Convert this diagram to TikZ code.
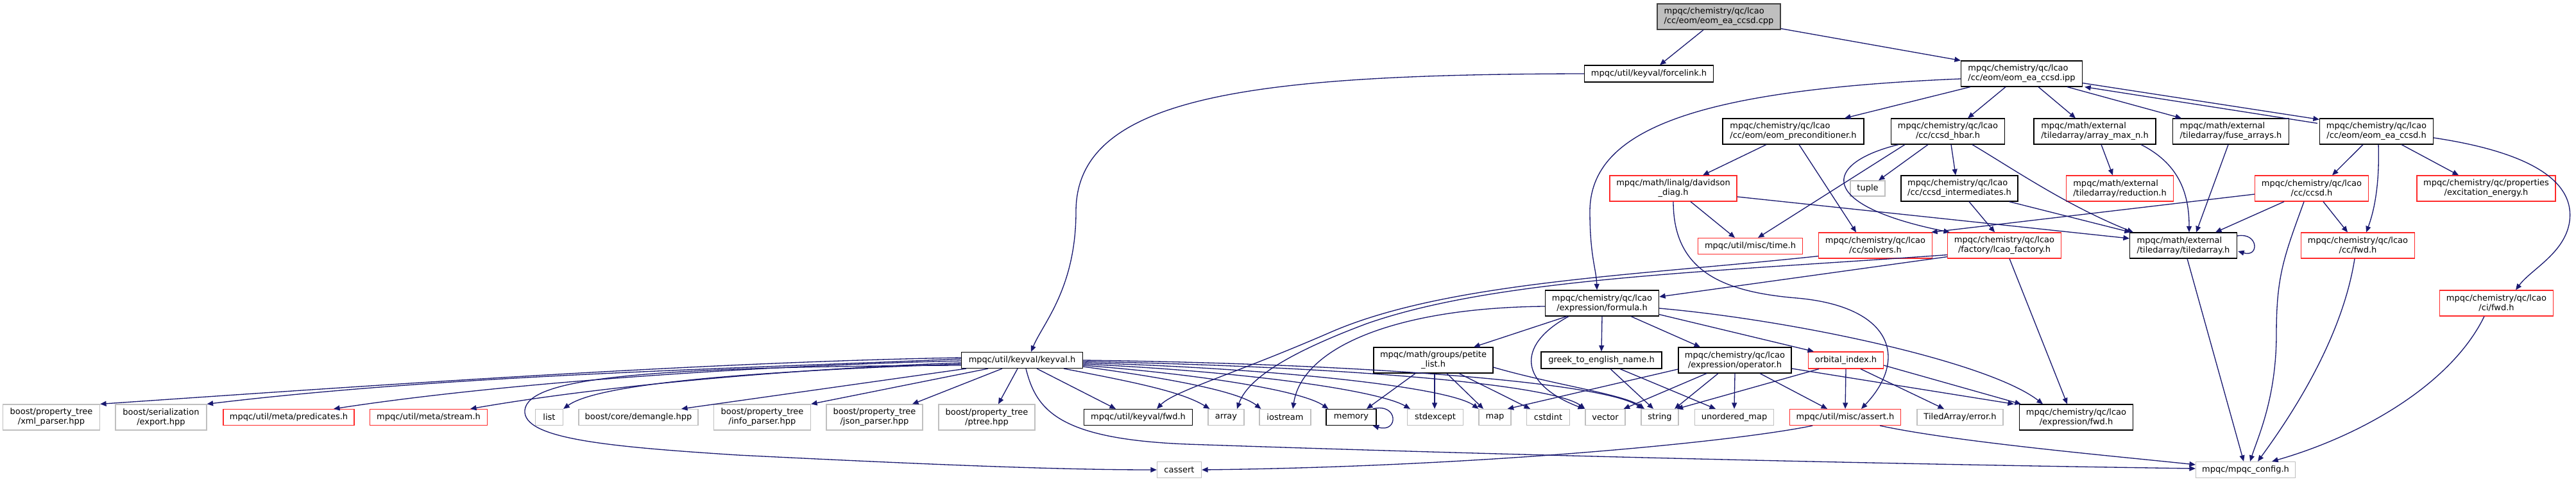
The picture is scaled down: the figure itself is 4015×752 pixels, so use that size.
\documentclass[tikz,border=0pt]{standalone}
\usepackage{fontspec}
\setmainfont{DejaVu Sans}
\usetikzlibrary{arrows.meta,calc}
\definecolor{edgecol}{HTML}{191970}
\definecolor{greyb}{HTML}{BFBFBF}
\definecolor{redb}{HTML}{FF2A2A}
\definecolor{rootfill}{HTML}{BFBFBF}
\definecolor{rootdraw}{HTML}{404040}
\begin{document}
\begin{tikzpicture}[x=0.2mm,y=-0.2mm,
  every node/.style={font=\fontsize{7.4}{8.5}\selectfont, inner sep=1pt, rectangle, line width=0.7pt, align=center, fill=white},
  sz/.style 2 args={minimum width=#1*0.2mm, minimum height=#2*0.2mm},
  nb/.style={draw=black},
  nr/.style={draw=redb},
  ng/.style={draw=greyb},
  root/.style={draw=rootdraw, fill=rootfill},
  dep/.style={draw=edgecol, line width=0.75pt, -{Triangle[length=1.9mm,width=1.6mm]}}]
\useasboundingbox (0,0) rectangle (4015,752);
\fill[white] (0,0) rectangle (4015,752);

% ---- nodes ----
\node[root,sz={192}{40},align=left] (cpp) at (2679,26) {mpqc/chemistry/qc/lcao\\/cc/eom/eom\_ea\_ccsd.cpp};
\node[nb,sz={201}{26}] (forcelink) at (2570,115) {mpqc/util/keyval/forcelink.h};
\node[nb,sz={189}{40},align=left] (ipp) at (3151,115) {mpqc/chemistry/qc/lcao\\/cc/eom/eom\_ea\_ccsd.ipp};
\node[nb,sz={220}{40},align=left] (precond) at (2795,205) {mpqc/chemistry/qc/lcao\\/cc/eom/eom\_preconditioner.h};
\node[nb,sz={177}{40}] (hbar) at (3036,205) {mpqc/chemistry/qc/lcao\\/cc/ccsd\_hbar.h};
\node[nb,sz={190}{40},align=left] (amax) at (3265,205) {mpqc/math/external\\/tiledarray/array\_max\_n.h};
\node[nb,sz={181}{40},align=left] (fuse) at (3477,205) {mpqc/math/external\\/tiledarray/fuse\_arrays.h};
\node[nb,sz={177}{40}] (eomh) at (3704,205) {mpqc/chemistry/qc/lcao\\/cc/eom/eom\_ea\_ccsd.h};
\node[nr,sz={198}{40}] (davidson) at (2608,294) {mpqc/math/linalg/davidson\\\_diag.h};
\node[ng,sz={54}{24}] (tuple) at (2911,294) {tuple};
\node[nb,sz={182}{40},align=left] (inter) at (3054,294) {mpqc/chemistry/qc/lcao\\/cc/ccsd\_intermediates.h};
\node[nr,sz={167}{40},align=left] (reduction) at (3304,294) {mpqc/math/external\\/tiledarray/reduction.h};
\node[nr,sz={177}{40}] (ccsdh) at (3603,294) {mpqc/chemistry/qc/lcao\\/cc/ccsd.h};
\node[nr,sz={216}{40}] (excit) at (3875,294) {mpqc/chemistry/qc/properties\\/excitation\_energy.h};
\node[nr,sz={163}{25}] (time) at (2728,384) {mpqc/util/misc/time.h};
\node[nr,sz={177}{40}] (solvers) at (2923,383) {mpqc/chemistry/qc/lcao\\/cc/solvers.h};
\node[nr,sz={177}{40}] (factory) at (3124,383) {mpqc/chemistry/qc/lcao\\/factory/lcao\_factory.h};
\node[nb,sz={167}{40},align=left] (tarr) at (3403,383) {mpqc/math/external\\/tiledarray/tiledarray.h};
\node[nr,sz={177}{40}] (ccfwd) at (3675,383) {mpqc/chemistry/qc/lcao\\/cc/fwd.h};
\node[nb,sz={177}{40}] (formula) at (2497,473) {mpqc/chemistry/qc/lcao\\/expression/formula.h};
\node[nr,sz={177}{40}] (cifwd) at (3891,473) {mpqc/chemistry/qc/lcao\\/ci/fwd.h};
\node[nb,sz={189}{25}] (keyval) at (1593,562) {mpqc/util/keyval/keyval.h};
\node[nb,sz={186}{40}] (petite) at (2234,562) {mpqc/math/groups/petite\\\_list.h};
\node[nb,sz={188}{26}] (greek) at (2496,562) {greek\_to\_english\_name.h};
\node[nb,sz={176}{40}] (operator) at (2704,562) {mpqc/chemistry/qc/lcao\\/expression/operator.h};
\node[nr,sz={117}{26}] (orbital) at (2877,562) {orbital\_index.h};

\node[ng,sz={151}{40}] (xml) at (80,651) {boost/property\_tree\\/xml\_parser.hpp};
\node[ng,sz={142}{40}] (export) at (251,651) {boost/serialization\\/export.hpp};
\node[nr,sz={204}{25}] (pred) at (450,651) {mpqc/util/meta/predicates.h};
\node[nr,sz={183}{25}] (stream) at (668,651) {mpqc/util/meta/stream.h};
\node[ng,sz={43}{25}] (list) at (856,651) {list};
\node[ng,sz={186}{25}] (demangle) at (995,651) {boost/core/demangle.hpp};
\node[ng,sz={151}{40}] (info) at (1188,651) {boost/property\_tree\\/info\_parser.hpp};
\node[ng,sz={150}{40}] (json) at (1363,651) {boost/property\_tree\\/json\_parser.hpp};
\node[ng,sz={150}{40}] (ptree) at (1538,651) {boost/property\_tree\\/ptree.hpp};
\node[nb,sz={169}{25}] (kvfwd) at (1774,651) {mpqc/util/keyval/fwd.h};
\node[ng,sz={56}{25}] (array) at (1911,651) {array};
\node[ng,sz={80}{25}] (iostream) at (2003,651) {iostream};
\node[nb,sz={78}{25}] (memory) at (2106,651) {memory};
\node[ng,sz={87}{25}] (stdexcept) at (2237,651) {stdexcept};
\node[ng,sz={50}{25}] (map) at (2330,651) {map};
\node[ng,sz={67}{25}] (cstdint) at (2413,651) {cstdint};
\node[ng,sz={62}{25}] (vector) at (2502,651) {vector};
\node[ng,sz={58}{25}] (string) at (2587,651) {string};
\node[ng,sz={123}{25}] (umap) at (2703,651) {unordered\_map};
\node[nr,sz={173}{25}] (assert) at (2876,651) {mpqc/util/misc/assert.h};
\node[ng,sz={134}{25}] (taerr) at (3055,651) {TiledArray/error.h};
\node[nb,sz={177}{40}] (exfwd) at (3236,651) {mpqc/chemistry/qc/lcao\\/expression/fwd.h};
\node[ng,sz={69}{25}] (cassert) at (1838,733) {cassert};
\node[ng,sz={155}{25}] (config) at (3500,733) {mpqc/mpqc\_config.h};

% ---- edges ----
\draw[dep] ($(cpp.south)+(-24,0)$) -- ($(forcelink.north)+(17,0)$);
\draw[dep] ($(cpp.south east)+(0,-2)$) -- (ipp.north west);
\draw[dep] (forcelink.west) .. controls (1950,116) and (1677,150) .. (1677,330) .. controls (1677,450) and (1625,505) .. ($(keyval.north)+(14,0)$);

\draw[dep] ($(ipp.west)+(0,8)$) .. controls (2650,140) and (2478,200) .. (2478,330) .. controls (2478,400) and (2488,420) .. ($(formula.north)+(-8,0)$);
\draw[dep] ($(ipp.south)+(-80,0)$) -- ($(precond.north)+(80,0)$);
\draw[dep] ($(ipp.south)+(-25,0)$) -- ($(hbar.north)+(31,0)$);
\draw[dep] ($(ipp.south)+(26,0)$) -- ($(amax.north)+(-30,0)$);
\draw[dep] ($(ipp.south)+(71,0)$) -- ($(fuse.north)+(-77,0)$);
\draw[dep] ($(ipp.south east)+(0,-6)$) -- ($(eomh.north west)+(0,2)$);
\draw[dep] ($(eomh.north west)+(-3,8)$) -- ($(ipp.south east)+(3,0)$);

\draw[dep] ($(precond.south)+(-42,0)$) -- ($(davidson.north)+(46,0)$);
\draw[dep] ($(precond.south)+(9,0)$) -- ($(solvers.north)+(-30,0)$);

\draw[dep] ($(davidson.south)+(27,0)$) -- ($(time.north)+(-24,0)$);
\draw[dep] ($(davidson.east)+(0,13)$) -- ($(tarr.west)+(0,-11)$);
\draw[dep] (davidson.south) .. controls (2608,420) and (2680,455) .. (2800,465) .. controls (2950,478) and (2975,560) .. ($(assert.north)+(25,0)$);

\draw[dep] ($(hbar.south west)+(22,0)$) -- ($(time.north)+(12,0)$);
\draw[dep] ($(hbar.south west)+(12,0)$) .. controls (2840,255) and (2830,320) .. ($(factory.north west)+(4,0)$);
\draw[dep] ($(hbar.south)+(-31,0)$) -- ($(tuple.north)+(17,0)$);
\draw[dep] ($(hbar.south)+(5,0)$) -- ($(inter.north)+(-6,0)$);
\draw[dep] ($(hbar.south)+(38,0)$) .. controls (3140,265) and (3220,320) .. ($(tarr.north west)+(6,0)$);

\draw[dep] ($(inter.south)+(15,0)$) -- ($(factory.north)+(-15,0)$);
\draw[dep] ($(inter.south east)+(-14,0)$) -- ($(tarr.north west)+(2,0)$);

\draw[dep] ($(amax.south)+(10,0)$) -- ($(reduction.north)+(-11,0)$);
\draw[dep] ($(amax.south)+(72,0)$) .. controls (3395,255) and (3412,300) .. ($(tarr.north)+(9,0)$);
\draw[dep] ($(fuse.south)+(-4,0)$) -- ($(tarr.north)+(20,0)$);

\draw[dep] ($(eomh.south)+(-21,0)$) -- ($(ccsdh.north)+(32,0)$);
\draw[dep] ($(eomh.south)+(3,0)$) .. controls (3709,290) and (3700,330) .. ($(ccfwd.north)+(13,0)$);
\draw[dep] ($(eomh.south)+(39,0)$) -- ($(excit.north)+(-43,0)$);
\draw[dep] ($(eomh.east)+(0,10)$) .. controls (3960,240) and (4012,290) .. (4005,345) .. controls (3998,395) and (3945,420) .. ($(cifwd.north)+(30,0)$);

\draw[dep] ($(ccsdh.west)+(0,9)$) -- ($(solvers.north east)+(-2,0)$);
\draw[dep] ($(ccsdh.south)+(-43,0)$) -- ($(tarr.north)+(50,0)$);
\draw[dep] ($(ccsdh.south)+(18,0)$) -- ($(ccfwd.north)+(-16,0)$);
\draw[dep] ($(ccsdh.south)+(-12,0)$) .. controls (3560,400) and (3548,430) .. (3548,520) .. controls (3548,620) and (3520,680) .. ($(config.north)+(7,0)$);

\draw[dep] ($(tarr.east)+(0,-15)$) .. controls (3520,362) and (3522,402) .. ($(tarr.east)+(1,9)$);
\draw[dep] ($(tarr.south)+(6,0)$) -- ($(config.north)+(-3,0)$);
\draw[dep] ($(ccfwd.south)+(-5,0)$) .. controls (3650,530) and (3570,650) .. ($(config.north)+(19,0)$);
\draw[dep] ($(cifwd.south)+(-19,0)$) .. controls (3820,600) and (3680,680) .. ($(config.north east)+(-37,0)$);

\draw[dep] ($(solvers.south west)+(0,-4)$) .. controls (2550,430) and (2250,440) .. (2070,520) .. controls (1920,585) and (1830,610) .. ($(kvfwd.north)+(29,0)$);
\draw[dep] ($(factory.south west)+(0,-6)$) .. controls (2650,425) and (2330,435) .. (2130,505) .. controls (2010,550) and (1945,590) .. ($(array.north)+(17,0)$);
\draw[dep] ($(factory.south west)+(0,-3)$) -- ($(formula.east)+(0,-10)$);
\draw[dep] ($(factory.south)+(8,0)$) -- ($(exfwd.north)+(-14,0)$);

\draw[dep] ($(formula.south)+(-55,0)$) -- ($(petite.north)+(63,0)$);
\draw[dep] ($(formula.south)+(-52,0)$) .. controls (2360,540) and (2370,600) .. ($(vector.north)+(-33,0)$);
\draw[dep] ($(formula.west)+(0,5)$) .. controls (2180,480) and (2030,540) .. ($(iostream.north)+(12,0)$);
\draw[dep] (formula.south) -- (greek.north);
\draw[dep] ($(formula.south)+(45,0)$) -- ($(operator.north)+(-54,0)$);
\draw[dep] ($(formula.south east)+(0,-3)$) -- ($(orbital.north)+(-50,0)$);
\draw[dep] ($(formula.east)+(0,8)$) .. controls (2800,500) and (3100,565) .. ($(exfwd.north)+(-52,0)$);

\draw[dep] ($(petite.south)+(-28,0)$) -- ($(memory.north)+(24,0)$);
\draw[dep] ($(petite.south)+(2,0)$) -- ($(stdexcept.north)+(-1,0)$);
\draw[dep] ($(petite.south)+(21,0)$) -- ($(map.north)+(-18,0)$);
\draw[dep] ($(petite.south)+(40,0)$) -- ($(cstdint.north)+(-28,0)$);
\draw[dep] ($(petite.east)+(0,11)$) .. controls (2420,600) and (2530,615) .. ($(string.north)+(-24,0)$);
\draw[dep] ($(memory.north east)+(-6,0)$) .. controls (2180,628) and (2180,676) .. ($(memory.south east)+(-6,0)$);

\draw[dep] ($(greek.south)+(14,0)$) -- ($(string.north)+(-10,0)$);
\draw[dep] ($(greek.south)+(29,0)$) -- ($(umap.north)+(-29,0)$);

\draw[dep] ($(operator.west)+(0,14)$) -- ($(map.north east)+(-6,0)$);
\draw[dep] ($(operator.south)+(-44,0)$) -- ($(vector.north east)+(-3,0)$);
\draw[dep] ($(operator.south)+(-26,0)$) -- ($(string.north)+(23,0)$);
\draw[dep] (operator.south) -- (umap.north);
\draw[dep] ($(operator.south)+(39,0)$) -- ($(assert.north)+(-28,0)$);
\draw[dep] ($(operator.east)+(0,13)$) -- ($(exfwd.north west)+(-8,0)$);

\draw[dep] ($(orbital.south)+(-42,0)$) -- ($(string.north east)+(-3,0)$);
\draw[dep] (orbital.south) -- (assert.north);
\draw[dep] ($(orbital.south)+(23,0)$) -- ($(taerr.north)+(-25,0)$);
\draw[dep] ($(orbital.east)+(0,8)$) -- ($(exfwd.north west)+(3,0)$);

\draw[dep] ($(assert.south)+(-51,0)$) .. controls (2700,690) and (2300,728) .. (cassert.east);
\draw[dep] ($(assert.south east)+(-33,0)$) .. controls (3050,690) and (3300,712) .. ($(config.west)+(0,-8)$);

\draw[dep] ($(keyval.south)+(6,0)$) .. controls (1615,640) and (1650,685) .. (1850,693) .. controls (2400,712) and (3000,725) .. ($(config.west)+(0,-2)$);
\draw[dep] ($(keyval.west)+(0,8)$) .. controls (1000,572) and (823,590) .. (818,640) .. controls (814,685) and (950,697) .. (1150,710) .. controls (1450,725) and (1650,733) .. (cassert.west);

\draw[dep] ($(keyval.west)+(0,-4)$) .. controls (1100,565) and (600,600) .. (xml.north east);
\draw[dep] ($(keyval.west)+(0,-2)$) .. controls (1150,575) and (700,585) .. (export.north east);
\draw[dep] ($(keyval.west)+(0,1)$) .. controls (1200,570) and (800,595) .. ($(pred.north)+(70,0)$);
\draw[dep] ($(keyval.west)+(0,4)$) .. controls (1250,575) and (950,600) .. ($(stream.north)+(65,0)$);
\draw[dep] ($(keyval.west)+(0,6)$) .. controls (1150,580) and (930,600) .. (list.north east);
\draw[dep] ($(keyval.south west)+(8,0)$) -- ($(demangle.north)+(67,0)$);
\draw[dep] ($(keyval.south)+(-53,0)$) -- (info.north east);
\draw[dep] ($(keyval.south)+(-31,0)$) -- ($(json.north)+(59,0)$);
\draw[dep] ($(keyval.south)+(-7,0)$) -- ($(ptree.north)+(18,0)$);

\draw[dep] ($(keyval.south)+(23,0)$) -- ($(kvfwd.north)+(-35,0)$);
\draw[dep] ($(keyval.south east)+(-30,0)$) .. controls (1760,595) and (1840,610) .. ($(array.north west)+(3,0)$);
\draw[dep] ($(keyval.east)+(0,10)$) .. controls (1820,590) and (1930,610) .. ($(iostream.north west)+(3,0)$);
\draw[dep] ($(keyval.east)+(0,8)$) .. controls (1880,585) and (2030,610) .. ($(memory.north west)+(4,0)$);
\draw[dep] ($(keyval.east)+(0,6)$) .. controls (1950,580) and (2150,610) .. ($(stdexcept.north west)+(5,0)$);
\draw[dep] ($(keyval.east)+(0,4)$) .. controls (2000,575) and (2260,605) .. (map.north west);
\draw[dep] ($(keyval.east)+(0,2)$) .. controls (2100,572) and (2420,600) .. (vector.north west);
\draw[dep] (keyval.east) .. controls (2150,568) and (2500,598) .. ($(string.north west)+(3,0)$);
\end{tikzpicture}
\end{document}
